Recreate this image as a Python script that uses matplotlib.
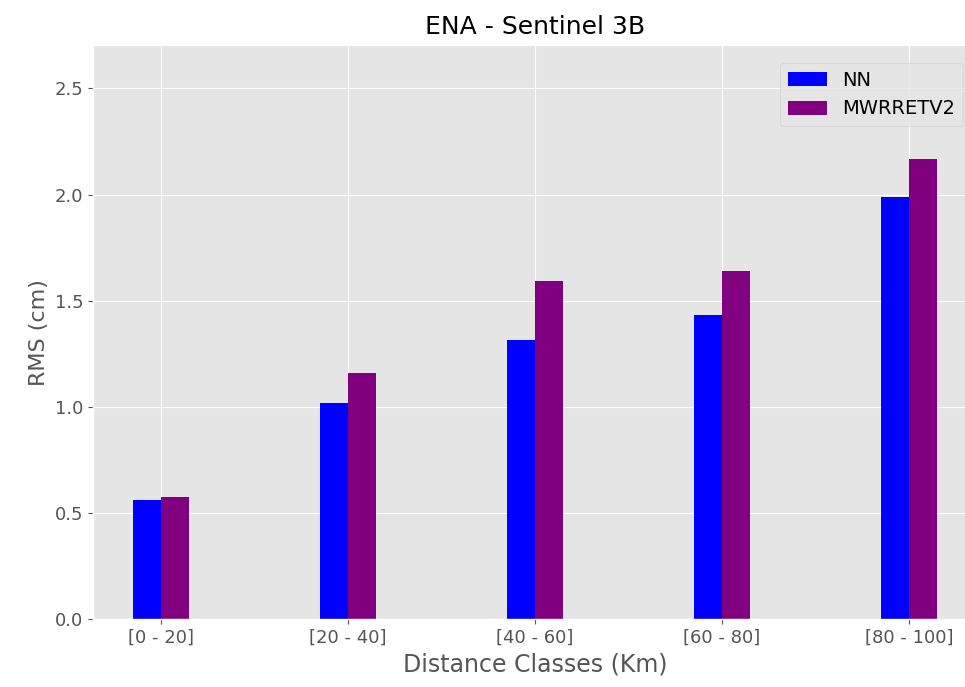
import matplotlib
matplotlib.use("Agg")
import matplotlib.pyplot as plt
import numpy as np

plt.style.use("ggplot")

categories = ["[0 - 20]", "[20 - 40]", "[40 - 60]", "[60 - 80]", "[80 - 100]"]
nn_values = [0.561, 1.02, 1.316, 1.432, 1.989]
mwr_values = [0.575, 1.160, 1.594, 1.642, 2.169]

fig = plt.figure(figsize=(9.65, 6.87), dpi=100)
left_px, right_px, top_px, bottom_px = 93.0, 977.0, 45.0, 619.3
ax = fig.add_axes([left_px/965, 1 - bottom_px/687, (right_px-left_px)/965, (bottom_px-top_px)/687])

x = np.arange(len(categories))
w = 0.15
ax.bar(x - w/2, nn_values, width=w, color="blue", label="NN")
ax.bar(x + w/2, mwr_values, width=w, color="purple", label="MWRRETV2")

ax.set_xticks(x)
ax.set_xticklabels(categories, fontsize=13)
ax.tick_params(axis="y", labelsize=13)
ax.set_xlim(-0.365, 4.365)
ax.set_ylim(0, 2.704)
ax.set_xlabel("Distance Classes (Km)", fontsize=17)
ax.set_ylabel("RMS (cm)", fontsize=16)
ax.set_title("ENA - Sentinel 3B", fontsize=18, pad=8)
ax.legend(loc="upper left", fontsize=14, bbox_to_anchor=(780/965, 1 - 63/687),
          bbox_transform=fig.transFigure, borderaxespad=0)

fig.savefig("out.png", dpi=100)
